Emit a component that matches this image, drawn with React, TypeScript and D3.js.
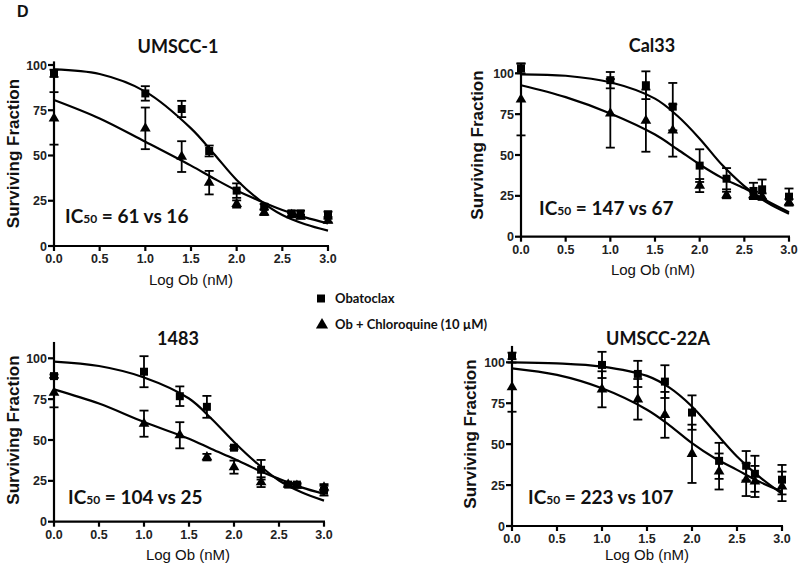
import React from "react";
import * as d3 from "d3";

// ---------- data ----------
const doses = [0, 1, 1.398, 1.699, 2, 2.301, 2.602, 2.699, 3];
const fitX = [0, 0.5, 1, 1.5, 1.75, 2, 2.25, 2.5, 2.75, 3];
const xTicks = [0, 0.5, 1, 1.5, 2, 2.5, 3];
const yTicks = [0, 25, 50, 75, 100];
const seriesNames = ["Obatoclax", "Ob + Chloroquine (10 µM)"];
const cellLines = ["UMSCC-1", "Cal33", "1483", "UMSCC-22A"];
const ic50Labels = ["61 vs 16", "147 vs 67", "104 vs 25", "223 vs 107"];

// UMSCC-1
const umscc1Ob = [95.4, 84.3, 75.7, 52.5, 30.6, 21.7, 18, 18, 17.5];
const umscc1ObErr = [2, 4, 4.5, 3, 4, 1.5, 1.5, 1.5, 1.5];
const umscc1Cq = [70.5, 65, 49.4, 35, 23.2, 18.6, 17.1, 16.2, 14];
const umscc1CqErr = [14.5, 11.5, 8.5, 6.5, 2, 1.5, 1, 1, 1];
const umscc1ObFit = [97.6, 95, 85.3, 65, 51, 36.5, 25.4, 17.1, 12, 8.5];
const umscc1CqFit = [80.7, 70.5, 57.6, 44.4, 37.3, 30.6, 25, 19.9, 15.8, 12.5];

// Cal33
const cal33Ob = [103, 95.8, 92.7, 79.6, 43.5, 35.5, 28, 29, 24.5];
const cal33ObErr = [3, 5, 8.5, 14.5, 10, 6.5, 5, 6, 5];
const cal33Cq = [84, 75.5, 71, 65, 31.3, 25.5, 25.5, 24.5, 21];
const cal33CqErr = [22, 21, 19, 16, 4, 2, 2, 2, 2];
const cal33ObFit = [99.4, 98.5, 94.5, 84.5, 74, 60, 44, 31, 21, 14];
const cal33CqFit = [92.7, 85.4, 75.4, 62.5, 53.5, 44.2, 36, 29.6, 22, 15];

// 1483
const c1483Ob = [89.1, 91.8, 76.8, 70.3, 45.3, 31.8, 22.7, 22.7, 19];
const c1483ObErr = [1, 9.5, 6, 6.7, 1, 6, 1, 1, 3];
const c1483Cq = [79, 60, 52.9, 39.5, 33.4, 24.2, 22.7, 22, 21];
const c1483CqErr = [9, 8, 8, 2, 4, 3, 1, 1, 2];
const c1483ObFit = [98, 95.3, 88.3, 75.4, 63, 48.8, 36, 25.2, 18, 12.9];
const c1483CqFit = [81, 72.3, 61, 50.8, 44.5, 38.5, 32, 26.2, 21, 17];

// UMSCC-22A
const umscc22Ob = [103.9, 98.4, 92.9, 88.2, 69.3, 39.8, 36.8, 31.9, 28.3];
const umscc22ObErr = [2, 8, 8, 10, 10.5, 11, 9, 11, 9];
const umscc22Cq = [84.8, 83.5, 77.4, 67.9, 44.1, 33.3, 28.3, 27.2, 24.2];
const umscc22CqErr = [15, 11, 12.4, 14, 17.8, 11, 10, 9.5, 9];
const umscc22ObFit = [100, 99.4, 97.4, 91.7, 84.5, 73, 57.7, 42.5, 30, 19.7];
const umscc22CqFit = [96.3, 92.3, 84.1, 71, 61.5, 50.6, 41.5, 34.3, 27, 21.1];

const panelData = [
  { ob: umscc1Ob, obErr: umscc1ObErr, cq: umscc1Cq, cqErr: umscc1CqErr, obFit: umscc1ObFit, cqFit: umscc1CqFit },
  { ob: cal33Ob, obErr: cal33ObErr, cq: cal33Cq, cqErr: cal33CqErr, obFit: cal33ObFit, cqFit: cal33CqFit },
  { ob: c1483Ob, obErr: c1483ObErr, cq: c1483Cq, cqErr: c1483CqErr, obFit: c1483ObFit, cqFit: c1483CqFit },
  { ob: umscc22Ob, obErr: umscc22ObErr, cq: umscc22Cq, cqErr: umscc22CqErr, obFit: umscc22ObFit, cqFit: umscc22CqFit },
];

// ---------- layout ----------
const layouts = [
  { x0: 54, x3: 328, y0: 246, y100: 65, yMax: 102, titleX: 178, titleY: 52.5, yLabX: 18.5, yLabY: 153.5, xLabX: 191, xLabY: 284.5, icX: 65, icY: 223 },
  { x0: 521, x3: 789, y0: 236.7, y100: 73.3, yMax: 106, titleX: 652, titleY: 51.5, yLabX: 483, yLabY: 145, xLabX: 653, xLabY: 275, icX: 539, icY: 215 },
  { x0: 54, x3: 324, y0: 521.7, y100: 358.3, yMax: 110, titleX: 178, titleY: 345, yLabX: 18.5, yLabY: 430, xLabX: 188, xLabY: 560, icX: 68, icY: 504 },
  { x0: 512, x3: 782, y0: 526, y100: 362.3, yMax: 110, titleX: 658, titleY: 345, yLabX: 476, yLabY: 434, xLabX: 647, xLabY: 560, icX: 528, icY: 504 },
];

const SANS = "'Liberation Sans', Arial, sans-serif";
const TITLE = "Lato, 'Open Sans', sans-serif";

const squarePath = d3.symbol(d3.symbolSquare, 64)() as string;
const trianglePath = d3.symbol(d3.symbolTriangle, 50)() as string;

function Panel({ idx }: { idx: number }) {
  const L = layouts[idx];
  const D = panelData[idx];
  const x = d3.scaleLinear().domain([0, 3]).range([L.x0, L.x3]);
  const y = d3.scaleLinear().domain([0, 100]).range([L.y0, L.y100]);
  const line = d3
    .line<number>()
    .x((_, i) => x(fitX[i]))
    .y((v) => y(v))
    .curve(d3.curveCatmullRom.alpha(0.5));
  const cap = 4.5;
  const errBars = (vals: number[], errs: number[], key: string) =>
    vals.map((v, i) => {
      const cx = x(doses[i]);
      const top = y(v + errs[i]);
      const bot = y(v - errs[i]);
      return (
        <g key={key + i} stroke="#000" strokeWidth={1.8}>
          <line x1={cx} x2={cx} y1={top} y2={bot} />
          <line x1={cx - cap} x2={cx + cap} y1={top} y2={top} />
          <line x1={cx - cap} x2={cx + cap} y1={bot} y2={bot} />
        </g>
      );
    });
  return (
    <g>
      {/* axes */}
      <g stroke="#000" strokeWidth={2.2} fill="none">
        <line x1={x(0)} x2={x(0)} y1={y(0) + 1} y2={y(L.yMax)} />
        <line x1={x(0) - 1} x2={x(3) + 1} y1={y(0)} y2={y(0)} />
        {yTicks.map((t) => (
          <line key={"yt" + t} x1={x(0) - 6} x2={x(0)} y1={y(t)} y2={y(t)} />
        ))}
        {xTicks.map((t) => (
          <line key={"xt" + t} x1={x(t)} x2={x(t)} y1={y(0)} y2={y(0) + 5} />
        ))}
      </g>
      <g fontFamily={SANS} fontSize={12.5} fontWeight="bold" fill="#222">
        {yTicks.map((t) => (
          <text key={"yl" + t} x={x(0) - 7} y={y(t) + 4.5} textAnchor="end">
            {t}
          </text>
        ))}
        {xTicks.map((t) => (
          <text key={"xl" + t} x={x(t)} y={y(0) + 17} textAnchor="middle">
            {t.toFixed(1)}
          </text>
        ))}
      </g>
      <text x={L.xLabX} y={L.xLabY} textAnchor="middle" fontFamily={SANS} fontSize={15} fill="#111">
        Log Ob (nM)
      </text>
      <text
        transform={`translate(${L.yLabX},${L.yLabY}) rotate(-90)`}
        textAnchor="middle"
        fontFamily={SANS}
        fontWeight="bold"
        fontSize={17}
        fill="#111"
      >
        Surviving Fraction
      </text>
      <text x={L.titleX} y={L.titleY} textAnchor="middle" fontFamily={TITLE} fontWeight="bold" fontSize={18} fill="#111">
        {cellLines[idx]}
      </text>
      <text x={L.icX} y={L.icY} fontFamily={TITLE} fontWeight="bold" fontSize={19} fill="#111">
        IC
        <tspan fontSize={12}>50</tspan>
        <tspan> = {ic50Labels[idx]}</tspan>
      </text>
      {/* fits */}
      <path d={line(D.obFit) as string} fill="none" stroke="#000" strokeWidth={2.2} />
      <path d={line(D.cqFit) as string} fill="none" stroke="#000" strokeWidth={2.2} />
      {errBars(D.ob, D.obErr, "eo")}
      {errBars(D.cq, D.cqErr, "ec")}
      {D.ob.map((v, i) => (
        <path key={"s" + i} d={squarePath} transform={`translate(${x(doses[i])},${y(v)})`} fill="#000" />
      ))}
      {D.cq.map((v, i) => (
        <path key={"t" + i} d={trianglePath} transform={`translate(${x(doses[i])},${y(v)})`} fill="#000" />
      ))}
    </g>
  );
}

export default function App() {
  return (
    <svg width={800} height={571} style={{ position: "absolute", left: 0, top: 0, background: "#fff" }}>
      <rect width={800} height={571} fill="#fff" />
      <text x={17} y={17} fontFamily={SANS} fontWeight="bold" fontSize={16} fill="#111">
        D
      </text>
      {layouts.map((_, i) => (
        <Panel key={i} idx={i} />
      ))}
      {/* legend */}
      <path d={squarePath} transform="translate(321,298.5)" fill="#000" />
      <text x={335} y={302.5} fontFamily={TITLE} fontWeight="bold" fontSize={13} fill="#111">
        {seriesNames[0]}
      </text>
      <path d={d3.symbol(d3.symbolTriangle, 64)() as string} transform="translate(322,325)" fill="#000" />
      <text x={335} y={329} fontFamily={TITLE} fontWeight="bold" fontSize={13} fill="#111">
        {seriesNames[1]}
      </text>
    </svg>
  );
}
